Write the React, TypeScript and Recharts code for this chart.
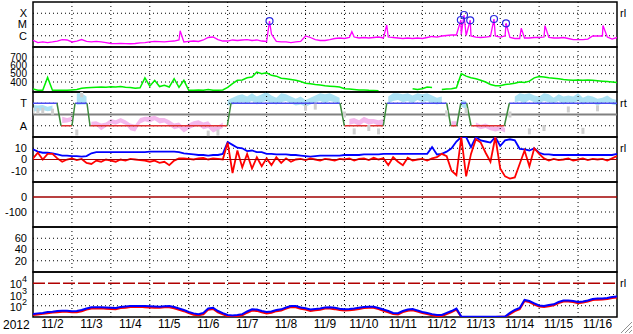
import React from "react";
import {
  ComposedChart,
  Line,
  Area,
  Scatter,
  XAxis,
  YAxis,
  ReferenceLine,
  ReferenceArea,
} from "recharts";

const FONT = '"Liberation Sans", Arial, Helvetica, sans-serif';
const W = 633;
const H = 334;
const PLOT_LEFT = 33;
const PLOT_RIGHT = 617;
const PANEL_H = 45;
const TOPS = [2, 47, 92, 137, 182, 227, 272];

// 3-hourly samples, days since 2012-11-02 00:00 UT
const sampleDays = Array.from({ length: 121 }, (_, i) => i / 8);

const dayLabels = [
  "11/2", "11/3", "11/4", "11/5", "11/6", "11/7", "11/8", "11/9",
  "11/10", "11/11", "11/12", "11/13", "11/14", "11/15", "11/16",
];
const dayLines = dayLabels.slice(1).map((_, i) => i + 1);

// ---- X-ray flux, units of 1e-7 W/m2 ----
const xrayClassLevels = [10, 100, 1000];
const xrayClassNames = ["C", "M", "X"];
const xrayBase = [
  4.0, 2.5, 2.8, 2.5, 2.8, 3.4, 4.6, 4.2,
  2.8, 3.4, 4.6, 3.1, 2.8, 3.1, 2.8, 2.5,
  2.05, 2.0, 2.1, 2.0, 1.95, 2.05, 2.3, 2.5,
  2.8, 3.1, 3.0, 2.8, 3.1, 3.4, 4.2, 2.8,
  3.1, 3.4, 3.1, 4.2, 7.0, 7.7, 4.6, 3.4,
  3.4, 4.2, 3.8, 4.2, 4.6, 3.8, 4.2, 3.4,
  3.1, 14, 3.1, 2.8, 2.8, 2.5, 2.8, 3.1,
  9.5, 7.0, 4.6, 3.8, 3.8, 4.6, 5.7, 6.3,
  5.7, 7.0, 7.7, 6.3, 7.0, 6.3, 7.0, 7.7,
  6.3, 7.7, 7.0, 6.3, 5.7, 6.3, 5.7, 6.3,
  5.7, 7.0, 8.6, 7.7, 9.5, 10.5, 11.7, 11.7,
  12.9, 10.5, 9.5, 7.7, 7.0, 7.7, 8.6, 9.5,
  7.7, 9.5, 7.0, 5.7, 5.7, 6.3, 6.3, 7.0,
  7.0, 7.7, 7.0, 6.3, 6.3, 7.0, 5.7, 4.6,
  4.6, 4.6, 5.1, 9.5, 9.5, 9.5, 7.7, 5.1,
  7.0,
];
const spikeDays = [3.78, 6.075, 8.19, 9.085, 10.99, 11.07, 11.23, 11.84, 12.15, 12.54, 13.15, 14.64];
const spikeFlux = [28, 200, 23, 90, 250, 700, 237, 307, 128, 46, 80, 80];

// ---- solar wind speed, km/s ----
const speed = [
  315, 300, 300, 455, 300, 300, 300, 300,
  305, 310, 325, 330, 335, 338, 340, 338,
  342, 340, 345, 338, 335, 325, 330, 450,
  350, 420, 345, 360, 340, 440, 335, 420,
  300, 300, 305, 300, 310, 300, 300, 305,
  335, 380, 420, 425, 450, 460, 520, 500,
  510, 480, 470, 445, 440, 430, 420, 405,
  385, 380, 370, 365, 355, 350, 345, 340,
  320, 315, 310, 305, 305, 300, 298, 295,
  null, null, null, null, null, null, 320, 310,
  320, 340, 335, null, 310, 315, 320, 330,
  500, 470, 450, 440, 420, 400, 370, 355,
  355, 370, 375, 385, 400, 395, 410, 450,
  465, 460, 450, 445, 440, 430, 425, 420,
  425, 420, 425, 420, 415, 410, 405, 400,
  395,
];

// ---- IMF sector: +1 toward, -1 away ----
const sectorDays = [
  0, 0.616, 0.719, 1.002, 1.079, 1.387, 1.464, 4.991, 5.086, 7.886, 7.997,
  8.998, 9.086, 10.627, 10.73, 10.884, 10.987, 11.14, 11.251, 12.107, 12.235, 15,
];
const sectorLevels = [
  1, 1, -1, -1, 1, 1, -1, -1, 1, 1, -1, -1, 1, 1, -1, -1, 1, 1, -1, -1, 1, 1,
];
const towardRange = [
  [0.3, 0.85], [0.3, 0.8], [0.4, 0.85], [0.3, 0.7], [0.35, 0.8], null, null, null,
  null, [0.85, 1.9], [0.9, 1.9], [0.9, 1.6], null, null, null, null,
  null, null, null, null, null, null, null, null,
  null, null, null, null, null, null, null, null,
  null, null, null, null, null, null, null, null,
  [0.8, 1.3], [0.9, 1.5], [1.0, 1.7], [1.1, 1.8], [1.0, 1.6], [1.2, 1.9], [0.9, 1.6], [1.1, 1.8],
  [1.2, 2.0], [1.0, 1.7], [0.9, 1.5], [1.1, 1.9], [1.2, 1.8], [1.0, 1.6], [0.8, 1.4], [0.9, 1.6],
  [0.7, 1.3], [0.9, 1.5], [1.1, 1.7], [1.2, 1.9], [1.0, 1.8], [1.2, 1.9], [1.1, 1.7], [0.9, 1.5],
  null, null, null, null, null, null, null, null,
  null, [1.0, 1.6], [1.2, 1.9], [1.3, 1.9], [1.1, 1.8], [1.2, 1.9], [1.0, 1.7], [1.3, 1.9],
  [1.1, 1.8], [1.2, 1.9], [1.0, 1.7], [0.9, 1.5], [1.0, 1.6], null, null, null,
  [0.7, 1.3], [0.5, 1.2], null, null, null, null, null, null,
  null, null, null, [1.1, 1.6], [1.2, 1.9], [1.0, 1.8], [1.3, 1.9], [1.1, 1.7],
  [1.0, 1.6], [1.2, 1.9], [1.1, 1.8], [1.0, 1.5], [1.2, 1.8], [0.9, 1.6], [1.1, 1.7], [1.0, 1.6],
  [1.2, 1.9], [0.9, 1.5], [1.1, 1.7], [1.0, 1.6], [0.8, 1.4], [1.0, 1.5], [1.1, 1.7], [0.9, 1.4],
  [0.8, 1.3],
];
const awayRange = [
  null, null, null, null, null, null, [-0.75, -0.2], [-0.7, -0.3],
  [-0.6, -0.2], null, null, null, [-0.93, -0.64], [-1.0, -0.6], [-1.4, -0.8], [-1.1, -0.7],
  [-0.8, -0.4], [-0.9, -0.5], [-0.7, -0.3], [-0.9, -0.5], [-1.4, -0.8], [-1.5, -0.9], [-0.8, -0.3], [-0.6, -0.2],
  [-0.7, -0.2], [-0.5, -0.1], [-0.8, -0.3], [-0.7, -0.3], [-1.0, -0.5], [-1.3, -0.8], [-1.2, -0.7], [-1.6, -1.1],
  [-1.3, -0.8], [-1.1, -0.6], [-1.0, -0.5], [-1.3, -0.7], [-1.2, -0.6], [-1.6, -1.1], [-1.4, -1.0], [-1.2, -0.7],
  null, null, null, null, null, null, null, null,
  null, null, null, null, null, null, null, null,
  null, null, null, null, null, null, null, null,
  null, [-0.9, -0.4], [-0.8, -0.3], [-1.0, -0.5], [-0.7, -0.2], [-0.9, -0.4], [-0.8, -0.4], [-1.0, -0.5],
  [-0.9, -0.4], null, null, null, null, null, null, null,
  null, null, null, null, null, null, [-0.9, -0.6], [-1.0, -0.6],
  null, null, null, [-1.1, -0.7], [-1.3, -0.9], [-1.2, -0.8], [-1.4, -1.0], [-1.5, -1.1],
  [-1.4, -1.0], [-1.6, -1.2], null, null, null, null, null, null,
  null, null, null, null, null, null, null, null,
  null, null, null, null, null, null, null, null,
  null,
];
const otherLevel = [
  0.35, 0.3, 0.35, null, 0.25, null, null, null,
  null, -1.6, 1.8, null, null, null, null, null,
  null, null, null, null, null, null, null, null,
  null, null, null, null, null, null, null, null,
  null, null, null, null, -1.7, null, -1.6, null,
  null, null, null, null, null, null, null, null,
  null, null, null, null, null, null, null, null,
  0.6, null, 0.7, null, null, null, null, null,
  0.0, null, -1.5, null, null, -1.2, null, -1.5,
  null, null, null, null, null, null, null, null,
  null, null, null, null, null, 0.1, null, null,
  null, 0.3, null, null, null, null, null, null,
  null, null, 0.0, null, null, null, -1.5, null,
  null, -1.2, null, null, null, null, 0.45, null,
  null, -1.45, null, null, 0.55, null, null, null,
  null,
];

// ---- IMF magnitude Bt and Bz, nT ----
const bt = [
  9, 7, 6, 6, 5.5, 4.5, 3.5, 3.5,
  3, 3, 2.5, 3, 5.5, 6.5, 6.5, 6.5,
  6.5, 6.5, 6.5, 6.5, 6.5, 6.5, 6.5, 6.5,
  7, 7, 7, 7, 7, 7, 6.5, 5.5,
  5, 4.5, 4, 4, 3.5, 4, 4, 5,
  15.5, 13, 10.5, 10, 7.5, 8, 6.5, 6.5,
  5, 5, 4.5, 4.5, 4.5, 4, 4, 3.5,
  3, 2.5, 3, 3.5, 3.5, 3.5, 3.5, 3.5,
  4, 4, 4, 4, 4.5, 4.5, 4.5, 4.5,
  5, 5, 5, 5, 5, 5, 5, 5,
  5, 5, 11, 4.5, 5, 7, 10, 16,
  20, 20, 11, 20, 17, 16, 15, 20,
  12, 17, 18, 17, 9.5, 9, 8, 10,
  6, 4.5, 4.5, 4, 4, 4, 4, 4,
  4, 4, 4, 4, 4, 4, 4, 4,
  5,
];
const bz = [
  1, 6, 0, 5, 5, 1, -2, 0,
  1, -0.5, 0.5, -3, -4, -1, -2, 0,
  -1, -2, 0, -1, 0.5, 0, -0.5, -1,
  -2, -1, -3, -2, -5, -1, 1, 1,
  0.5, 0, 1, 1.5, 0, 1, 0.5, 0,
  15, -12, 8, -7, 5, -8, 2, -6,
  1, -5, 2, -3, 1, -2, 0, 0.5,
  -0.5, 1, 0, -1, 0.5, 0, -1, 0.5,
  0, 1, -1, 0.5, 1, -0.5, 1.5, 0,
  1, -5, 2, -2, -5, 1.5, -1, 0,
  0.5, -1, 1, 2, 5, 3, -10, -14,
  20, -15, 5, 18, 15, 6, -2, 20,
  -8, -15, -17, -16, -4, 8, -6, 10,
  5, 1, -1, 0.5, -0.5, 0, 1, -1,
  0, 1, -0.5, 0.5, 0, 0.5, -1, 1,
  3,
];

// ---- Dst and Kp panels: scale only ----
const dstTicks = [0, -100];
const kpTicks = [60, 40, 20];

// ---- electron flux, two channels ----
const fluxTicks = [100, 1000, 10000];
const fluxBlue = [
  18, 21, 23, 28, 30, 34, 36, 36,
  32, 34, 42, 57, 72, 72, 72, 70,
  67, 63, 77, 85, 95, 95, 95, 95,
  90, 85, 82, 89, 95, 77, 57, 42,
  28, 21, 18, 23, 57, 67, 34, 22,
  15, 13.5, 15, 18, 31, 48, 46, 34,
  28, 31, 42, 48, 70, 95, 95, 70,
  60, 46, 51, 57, 70, 72, 65, 53,
  48, 51, 57, 67, 77, 82, 82, 63,
  46, 34, 23, 22, 34, 46, 51, 38,
  28, 23, 18, 15, 15, 23, 34, 57,
  11, 10.6, 10.6, 10.6, 10.6, 10.6, 10.6, 10.6,
  10.6, 11, 23, 42, 63, 325, 265, 165,
  105, 95, 117, 135, 215, 295, 295, 265,
  215, 240, 295, 400, 440, 440, 490, 600,
  660,
];
const fluxRed = [
  15, 17, 19, 22, 25, 27, 30, 29,
  26, 27, 33, 45, 58, 57, 60, 55,
  52, 50, 62, 68, 78, 76, 80, 75,
  70, 66, 65, 72, 75, 60, 44, 33,
  22, 16, 14, 17, 45, 52, 26, 17,
  12, 11, 12, 14, 24, 38, 35, 26,
  21, 24, 33, 38, 55, 76, 72, 55,
  46, 35, 40, 45, 56, 58, 50, 41,
  38, 40, 45, 52, 62, 65, 66, 50,
  36, 26, 18, 17, 27, 36, 40, 30,
  22, 18, 14, 12, 12, 18, 27, 45,
  10.3, 10.2, 10.2, 10.2, 10.2, 10.2, 10.2, 10.2,
  10.3, 10.5, 18, 33, 50, 260, 210, 130,
  85, 76, 92, 108, 170, 235, 240, 210,
  170, 190, 235, 320, 350, 355, 400, 480,
  530,
];

// ---- tables ----
const xrayRows = [
  ...sampleDays.map((t, i) => ({ t, flux: xrayBase[i] })),
  ...spikeDays.map((t, i) => ({ t, flux: spikeFlux[i] })),
].sort((a, b) => a.t - b.t);
const flareRows = spikeDays
  .map((t, i) => ({ t, flux: spikeFlux[i] }))
  .filter((r) => r.flux >= 100);
const speedRows = sampleDays.map((t, i) => ({ t, v: speed[i] }));
const imfRows = sampleDays.map((t, i) => ({ t, bt: bt[i], bz: bz[i] }));
const fluxRows = sampleDays.map((t, i) => ({ t, hi: fluxBlue[i], lo: fluxRed[i] }));
const emptyRows = sampleDays.map((t) => ({ t }));
const cloudRows = sampleDays.map((t, i) => ({ t, tor: towardRange[i], awy: awayRange[i] }));
const otherRows = sampleDays
  .map((t, i) => ({ t, oth: otherLevel[i] }))
  .filter((r) => r.oth != null);

function sectorSegments(kind: string, key: string) {
  const out: Record<string, number | null>[] = [];
  for (let k = 0; k < sectorDays.length - 1; k++) {
    const a = sectorLevels[k];
    const b = sectorLevels[k + 1];
    const segKind = a === b ? (a > 0 ? "T" : "A") : "X";
    if (segKind !== kind) continue;
    out.push({ t: sectorDays[k], [key]: a }, { t: sectorDays[k + 1], [key]: b }, { t: sectorDays[k + 1], [key]: null });
  }
  return out;
}
const towardSeg = sectorSegments("T", "tw");
const awaySeg = sectorSegments("A", "aw");
const crossSeg = sectorSegments("X", "cr");

const tickStyle = { fill: "#000", fontSize: 11, fontFamily: FONT };

function PowTick(props: any) {
  const { x, y, payload } = props;
  const exp = Math.round(Math.log10(payload.value));
  return (
    <text x={x} y={y + 5} textAnchor="end" fill="#000" fontSize={11} fontFamily={FONT}>
      10
      <tspan dy={-6} fontSize={9}>
        {exp}
      </tspan>
    </text>
  );
}

function FlareMark(props: any) {
  return <circle cx={props.cx} cy={props.cy} r={3.5} fill="none" stroke="#2a2ae0" strokeWidth={1.2} />;
}

function GreyDot(props: any) {
  return <rect x={props.cx - 1.5} y={props.cy - 3} width={3} height={6} fill="#cfcfcf" />;
}

type PanelProps = {
  top: number;
  data: any[];
  domain: [number, number];
  log?: boolean;
  ticks: number[];
  tickFormatter?: (v: number) => string;
  tick?: any;
  dotted?: number[];
  rightTick?: number;
  rightLabel?: string;
  axis?: boolean;
  children?: React.ReactNode;
};

function Panel({
  top, data, domain, log, ticks, tickFormatter, tick, dotted = [], rightTick, rightLabel = "rl", axis = false, children,
}: PanelProps) {
  const h = PANEL_H + 2 + (axis ? 16 : 0);
  return (
    <div style={{ position: "absolute", left: 0, top: top - 1 }}>
      <ComposedChart width={W} height={h} data={data} margin={{ top: 1, right: 0, bottom: 1, left: 0 }}>
        <XAxis
          dataKey="t"
          type="number"
          domain={[0, 15]}
          allowDataOverflow
          hide={!axis}
          ticks={dayLabels.map((_, i) => i + 0.5)}
          tickFormatter={(v: number) => dayLabels[Math.floor(v)]}
          interval={0}
          axisLine={false}
          tickLine={false}
          tickSize={1}
          tickMargin={1}
          height={16}
          tick={{ ...tickStyle, fontSize: 12 }}
        />
        <YAxis
          type="number"
          scale={log ? "log" : "linear"}
          domain={domain}
          allowDataOverflow
          ticks={ticks}
          tickFormatter={tickFormatter}
          tick={tick ?? tickStyle}
          interval={0}
          width={PLOT_LEFT}
          axisLine={false}
          tickLine={false}
          tickSize={4}
          tickMargin={2}
        />
        <YAxis
          yAxisId="r"
          orientation="right"
          type="number"
          scale={log ? "log" : "linear"}
          domain={domain}
          allowDataOverflow
          ticks={rightTick != null ? [rightTick] : undefined}
          tick={rightTick != null ? tickStyle : false}
          tickFormatter={() => rightLabel}
          width={W - PLOT_RIGHT}
          axisLine={false}
          tickLine={false}
          tickSize={1}
          tickMargin={2}
        />
        {dayLines.map((d) => (
          <ReferenceLine key={"d" + d} x={d} stroke="#000" strokeDasharray="1 3" />
        ))}
        {dotted.map((v) => (
          <ReferenceLine key={"h" + v} y={v} stroke="#000" strokeDasharray="1 3" />
        ))}
        {children}
        <ReferenceArea x1={0} x2={15} y1={domain[0]} y2={domain[1]} fill="none" stroke="#000" strokeWidth={1.5} />
      </ComposedChart>
    </div>
  );
}

export default function App() {
  return (
    <div style={{ position: "absolute", left: 0, top: 0, width: W, height: H, background: "#fff", overflow: "hidden" }}>
      <Panel
        top={TOPS[0]}
        data={xrayRows}
        domain={[1, 10000]}
        log
        ticks={xrayClassLevels}
        tickFormatter={(v) => xrayClassNames[xrayClassLevels.indexOf(v)]}
        dotted={xrayClassLevels}
        rightTick={1000}
      >
        <Line dataKey="flux" stroke="#ff00ff" strokeWidth={1.3} dot={false} isAnimationActive={false} />
        <Scatter data={flareRows} dataKey="flux" shape={FlareMark} isAnimationActive={false} />
      </Panel>

      <Panel
        top={TOPS[1]}
        data={speedRows}
        domain={[280, 820]}
        ticks={[400, 500, 600, 700]}
        tick={{ ...tickStyle, fontSize: 10 }}
        dotted={[400, 500, 600, 700]}
        rightTick={750}
      >
        <Line dataKey="v" stroke="#00ee00" strokeWidth={1.5} dot={false} connectNulls={false} isAnimationActive={false} />
      </Panel>

      <Panel
        top={TOPS[2]}
        data={cloudRows}
        domain={[-2, 2]}
        ticks={[1, -1]}
        tickFormatter={(v) => (v > 0 ? "T" : "A")}
        dotted={[1, -1]}
        rightTick={1}
        rightLabel="rt"
      >
        <Area dataKey="tor" stroke="none" fill="#ace2f4" fillOpacity={1} connectNulls={false} isAnimationActive={false} />
        <Area dataKey="awy" stroke="none" fill="#f4b8ec" fillOpacity={1} connectNulls={false} isAnimationActive={false} />
        <Scatter data={otherRows} dataKey="oth" shape={GreyDot} isAnimationActive={false} />
        <ReferenceLine y={0} stroke="#808080" strokeWidth={2} />
        <Line data={towardSeg} dataKey="tw" stroke="#4a4af0" strokeWidth={1.5} dot={false} isAnimationActive={false} />
        <Line data={awaySeg} dataKey="aw" stroke="#e03030" strokeWidth={1.5} dot={false} isAnimationActive={false} />
        <Line data={crossSeg} dataKey="cr" stroke="#3c8a3c" strokeWidth={1.5} dot={false} isAnimationActive={false} />
      </Panel>

      <Panel
        top={TOPS[3]}
        data={imfRows}
        domain={[-20, 20]}
        ticks={[10, 0, -10]}
        dotted={[10, -10]}
        rightTick={10}
      >
        <Line dataKey="bt" stroke="#0000ff" strokeWidth={1.8} dot={false} isAnimationActive={false} />
        <Line dataKey="bz" stroke="#ff0000" strokeWidth={1.8} dot={false} isAnimationActive={false} />
        <ReferenceLine y={0} stroke="#a00000" strokeWidth={1.2} />
      </Panel>

      <Panel top={TOPS[4]} data={emptyRows} domain={[-200, 100]} ticks={dstTicks} dotted={[-100]}>
        <ReferenceLine y={0} stroke="#a00000" strokeWidth={1.5} />
      </Panel>

      <Panel top={TOPS[5]} data={emptyRows} domain={[0, 80]} ticks={kpTicks} dotted={kpTicks} />

      <Panel
        top={TOPS[6]}
        data={fluxRows}
        domain={[10, 100000]}
        log
        ticks={fluxTicks}
        tick={<PowTick />}
        dotted={[100, 1000]}
        rightTick={10000}
        axis
      >
        <ReferenceLine y={10000} stroke="#b00000" strokeWidth={1.3} strokeDasharray="12 3" />
        <Line dataKey="lo" stroke="#ff0000" strokeWidth={2} dot={false} isAnimationActive={false} />
        <Line dataKey="hi" stroke="#0000ff" strokeWidth={2} dot={false} isAnimationActive={false} />
      </Panel>

      <div style={{ position: "absolute", left: 3, top: 318, fontFamily: FONT, fontSize: 12, color: "#000" }}>2012</div>
      <svg width={14} height={14} style={{ position: "absolute", left: 619, top: 320 }}>
        <line x1={2} y1={13} x2={13} y2={2} stroke="#909090" />
        <line x1={6} y1={13} x2={13} y2={6} stroke="#909090" />
        <line x1={10} y1={13} x2={13} y2={10} stroke="#909090" />
      </svg>
    </div>
  );
}
